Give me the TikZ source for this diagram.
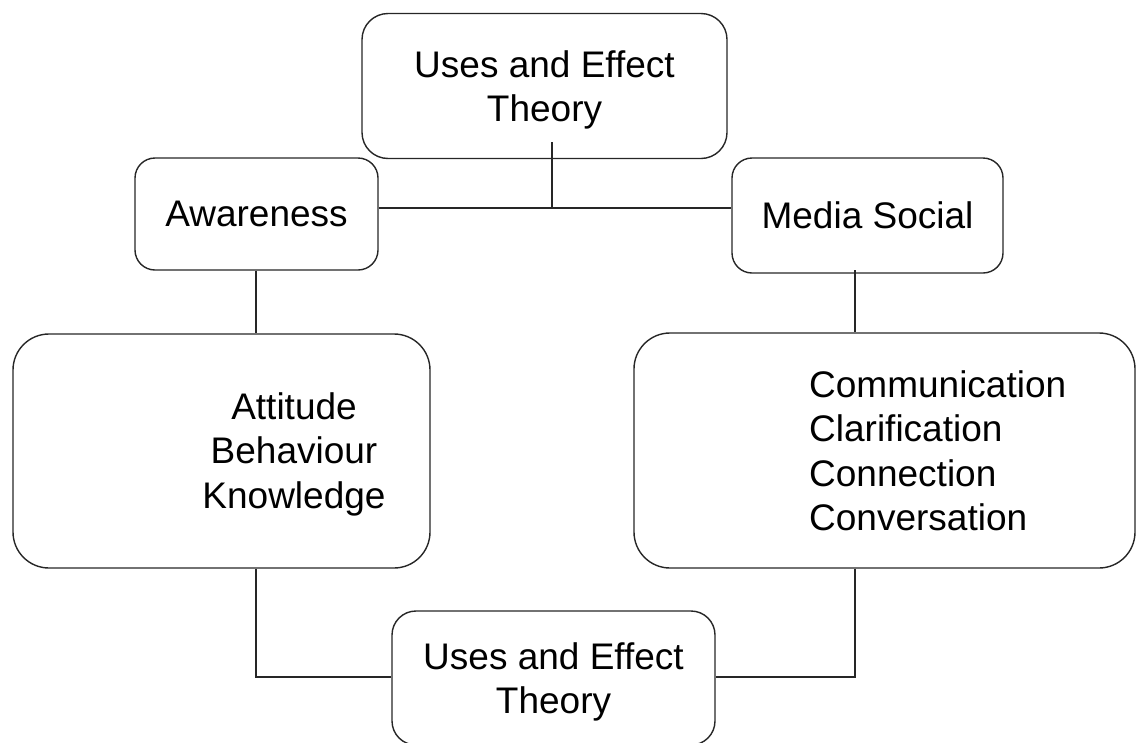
\documentclass[tikz,border=0pt]{standalone}
\usepackage{fontspec}
\setmainfont{Liberation Sans}
\begin{document}
\begin{tikzpicture}[x=1pt,y=-1pt,
  box/.style={draw=black!85, line width=1.4pt, rectangle, inner sep=0pt, align=center,
    font=\fontsize{37}{44.5}\selectfont},
  txt/.style={inner sep=0pt, font=\fontsize{37}{44.5}\selectfont},
  link/.style={draw=black!85, line width=1.4pt}]
\useasboundingbox (0,0) rectangle (1137,742);
% boxes
\node[box, rounded corners=26pt, minimum width=365pt, minimum height=145pt, text depth=0pt] (top) at (544.5,86) {Uses and Effect\\Theory};
\node[box, rounded corners=20pt, minimum width=243pt, minimum height=112pt] (aw) at (256.5,214) {Awareness};
\node[box, rounded corners=20pt, minimum width=271pt, minimum height=115pt] (ms) at (867.5,215.5) {Media Social};
\node[box, rounded corners=36pt, minimum width=417pt, minimum height=234pt] (lb) at (221.5,451) {};
\node[box, rounded corners=36pt, minimum width=501pt, minimum height=235pt] (rb) at (884.5,450.5) {};
\node[box, rounded corners=24pt, minimum width=323pt, minimum height=134pt, text depth=0pt] (bt) at (553.5,678) {Uses and Effect\\Theory};
% texts in big boxes
\node[txt, align=center] (lbt) at (294,454) {Attitude\\Behaviour\\Knowledge};
\node[txt, align=left, anchor=west] (rbt) at (809,451) {Communication\\Clarification\\Connection\\Conversation};
% coordinates for connectors
\coordinate (topstem) at (552,142);
\coordinate (jn) at (552,208);
\coordinate (msstem) at (855,270);
\coordinate (lcol) at (256,0);
\coordinate (rcol) at (855,0);
\coordinate (brow) at (0,677);
% connectors
\draw[link] (topstem) -- (jn);
\draw[link] (aw.east |- jn) -- (ms.west |- jn);
\draw[link] (aw.south -| lcol) -- (lb.north -| lcol);
\draw[link] (msstem) -- (rb.north -| rcol);
\draw[link] (lb.south -| lcol) -- (lcol |- brow) -- (bt.west |- brow);
\draw[link] (rb.south -| rcol) -- (rcol |- brow) -- (bt.east |- brow);
\end{tikzpicture}
\end{document}
